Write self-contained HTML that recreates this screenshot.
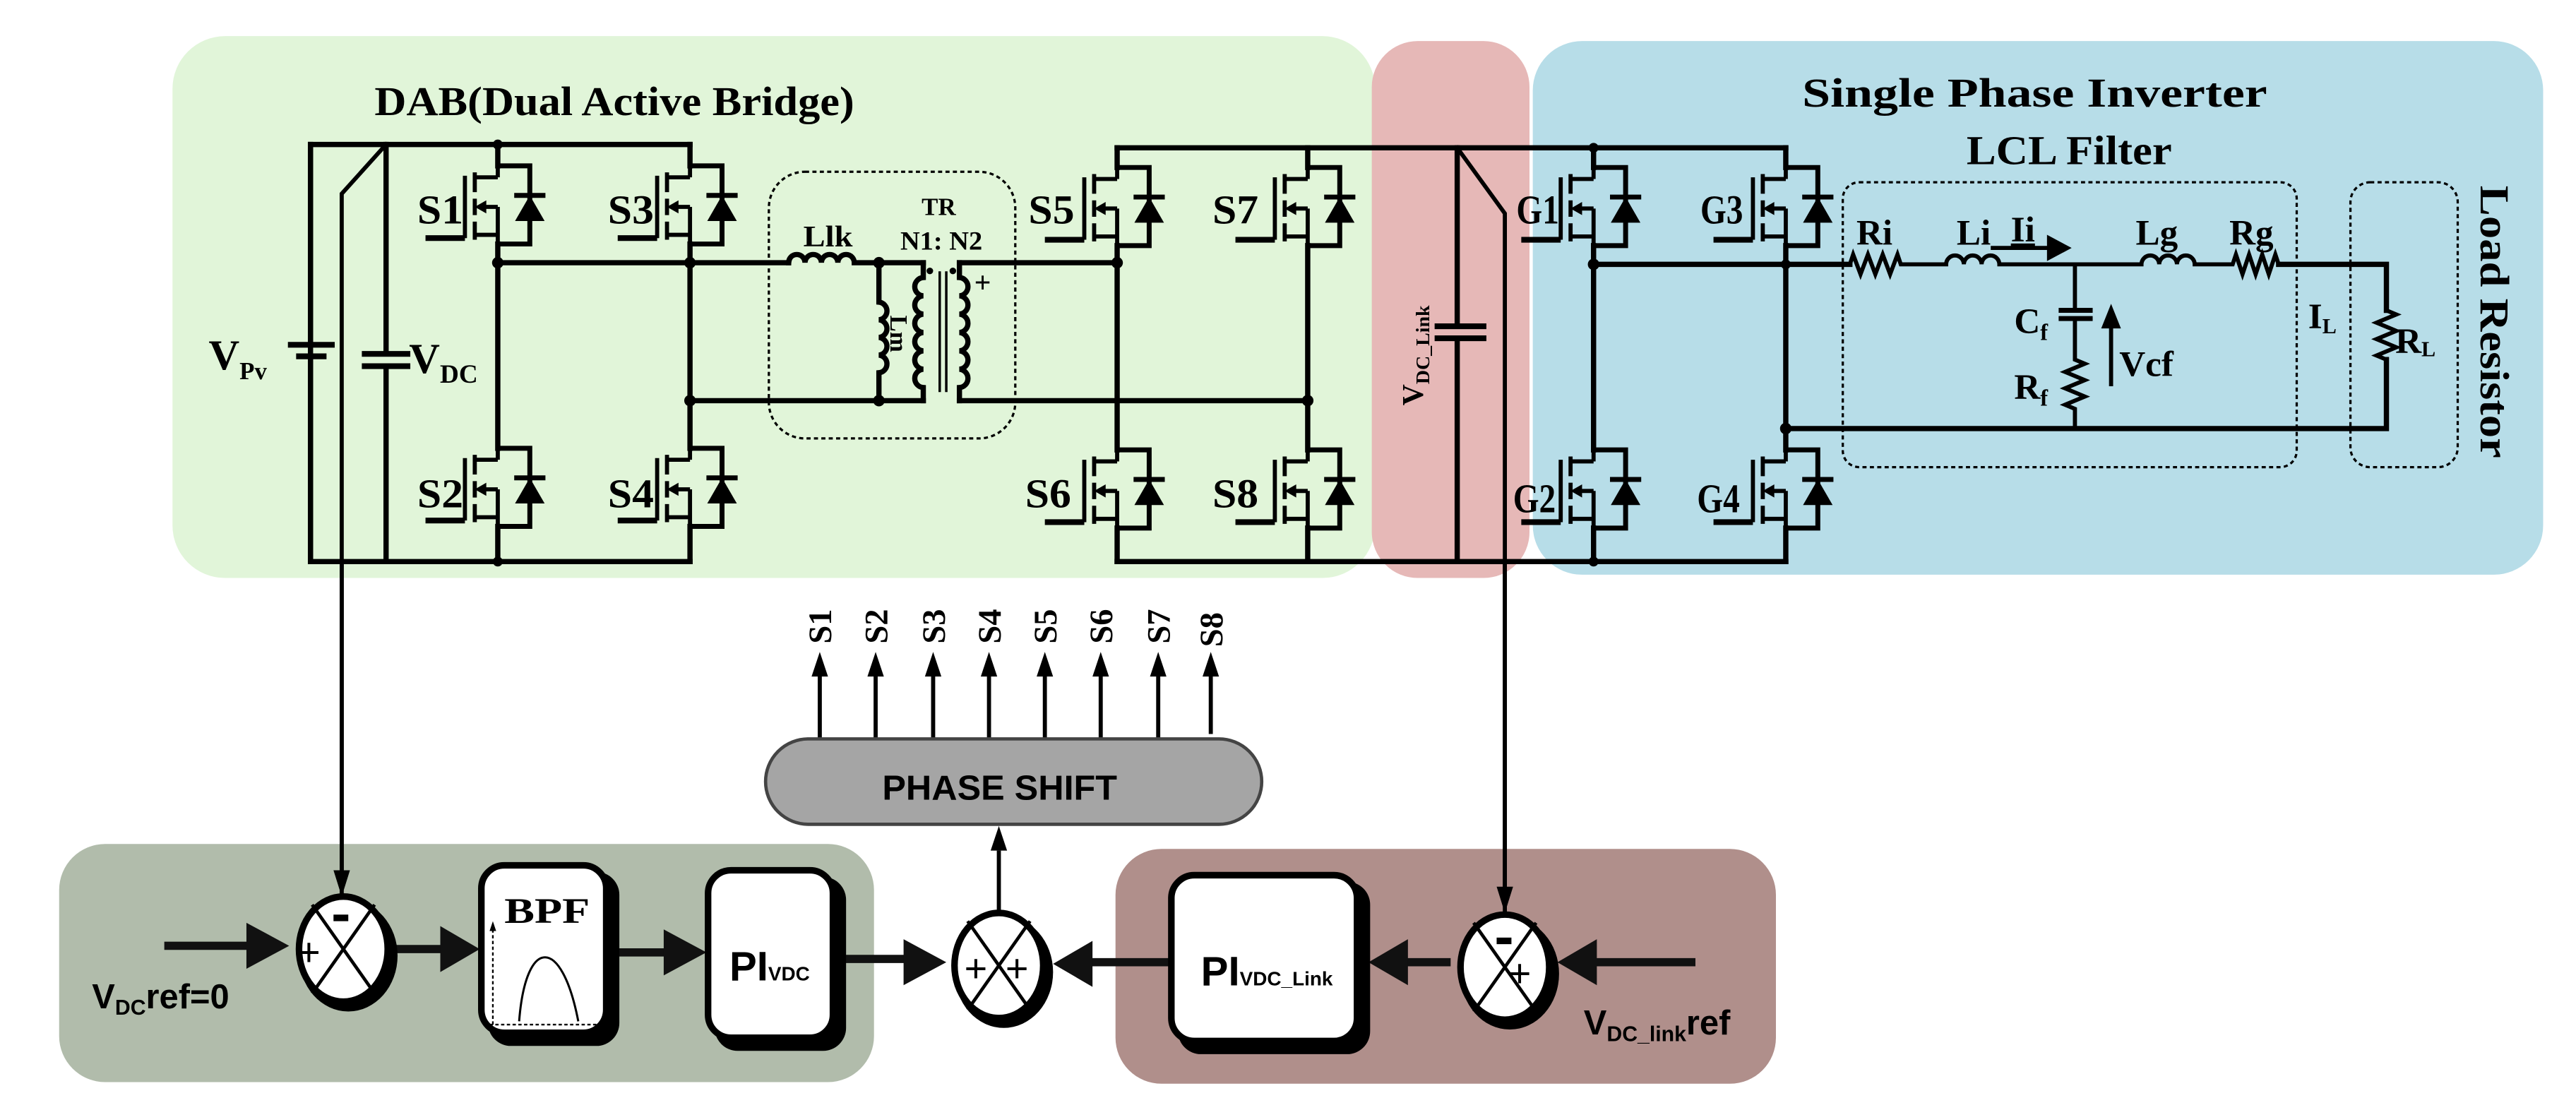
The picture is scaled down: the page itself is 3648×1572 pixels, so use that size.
<!DOCTYPE html>
<html><head><meta charset="utf-8"><style>
html,body{margin:0;padding:0;background:#fff;}
svg{display:block;}
.s{font-family:"Liberation Serif",serif;font-weight:bold;}
.a{font-family:"Liberation Sans",sans-serif;font-weight:bold;}
</style></head><body>
<svg width="3648" height="1572" viewBox="0 0 1568 676" preserveAspectRatio="none" xmlns="http://www.w3.org/2000/svg">
<defs>
<g id="m" fill="none" stroke="#000">
 <path d="M0,0 H19.5 V47.6 H0" stroke-width="3"/>
 <path d="M-14,4 V16 M-14,20 V30 M-14,34 V45" stroke-width="2.5"/>
 <path d="M-20,6 V44" stroke-width="2.5"/>
 <path d="M-44,44 H-20" stroke-width="3.5"/>
 <path d="M-14,7 H0 M-14,42 H0 M-10,25 H0 M0,0 V7 M0,25 V47.6" stroke-width="2.5"/>
 <polygon points="-14,25 -7,21 -7,29" fill="#000" stroke="none"/>
 <polygon points="19.5,18 10.5,33.6 28.5,33.6" fill="#000" stroke="none"/>
 <path d="M10,18 H29" stroke-width="3"/>
</g>
</defs>

<rect x="105" y="22" width="732" height="330" rx="32" fill="#e1f5d9"/>
<rect x="835" y="25" width="96" height="327" rx="28" fill="#e6b8b7"/>
<rect x="933" y="25" width="615" height="325" rx="30" fill="#b7dde8"/>
<rect x="36" y="514" width="496" height="145" rx="28" fill="#b1bcab"/>
<rect x="679" y="517" width="402" height="143" rx="28" fill="#b08f8b"/>

<text class="s" x="228" y="70" font-size="25" textLength="292" lengthAdjust="spacingAndGlyphs">DAB(Dual Active Bridge)</text>
<text class="s" x="1097" y="65" font-size="25" textLength="283" lengthAdjust="spacingAndGlyphs">Single Phase Inverter</text>
<text class="s" x="1197" y="100" font-size="25" textLength="125" lengthAdjust="spacingAndGlyphs">LCL Filter</text>
<text class="s" transform="translate(1510,113) rotate(90)" font-size="25" textLength="166" lengthAdjust="spacingAndGlyphs">Load Resistor</text>

<g fill="none" stroke="#000" stroke-width="3.2" stroke-linecap="square">
<path d="M189,88 H420 M189,342 H420 M189,88 V342"/>
<path d="M235,88 L208,118 V545" stroke-width="2.5"/>
<path d="M235,88 V215.5 M235,223 V342"/>
<path d="M189,88 V210 M189,217 V342"/>
<path d="M303,88 V101 M303,148.6 V273 M303,320.6 V342"/>
<path d="M420,88 V101 M420,148.6 V273 M420,320.6 V342"/>
<path d="M303,160 H480 M420,244 H562"/>
<path d="M480,160 a5,5 0 0 1 10,0 a5,5 0 0 1 10,0 a5,5 0 0 1 10,0 a5,5 0 0 1 10,0 H562"/>
<path d="M535,160 V184 a5.4,5.4 0 0 1 0,10.75 a5.4,5.4 0 0 1 0,10.75 a5.4,5.4 0 0 1 0,10.75 a5.4,5.4 0 0 1 0,10.75 V244"/>
<path d="M562,160 V169 a5.6,5.6 0 0 0 0,11.17 a5.6,5.6 0 0 0 0,11.17 a5.6,5.6 0 0 0 0,11.17 a5.6,5.6 0 0 0 0,11.17 a5.6,5.6 0 0 0 0,11.17 a5.6,5.6 0 0 0 0,11.17 V244"/>
<path d="M584,160 V169 a5.6,5.6 0 0 1 0,11.17 a5.6,5.6 0 0 1 0,11.17 a5.6,5.6 0 0 1 0,11.17 a5.6,5.6 0 0 1 0,11.17 a5.6,5.6 0 0 1 0,11.17 a5.6,5.6 0 0 1 0,11.17 V244"/>
<path d="M572,166 V238 M576,166 V238" stroke-width="1.5"/>
<path d="M584,160 H680 M584,244 H796"/>
<path d="M680,90 H1087 M680,342 H1087"/>
<path d="M680,90 V102 M680,149.6 V274 M680,321.6 V342"/>
<path d="M796,90 V102 M796,149.6 V274 M796,321.6 V342"/>
<path d="M887,90 V198.7 M887,206 V342"/>
<path d="M887,90 L916,130 V555" stroke-width="2.5"/>
<path d="M970,90 V102 M970,149.6 V274 M970,321.6 V342"/>
<path d="M1087,90 V102 M1087,149.6 V274 M1087,321.6 V342"/>
<path d="M970,161 H1126 M1087,261 H1452.6 V219 M1452.6,189 V161 H1387"/>
<path d="M1126,161 l2,-6 l4.5,12 l4.5,-12 l4.5,12 l4.5,-12 l4.5,12 l4.5,-12 l2,6 H1184.6 a5.4,5.4 0 0 1 10.8,0 a5.4,5.4 0 0 1 10.8,0 a5.4,5.4 0 0 1 10.8,0 H1303.5 a5.4,5.4 0 0 1 10.8,0 a5.4,5.4 0 0 1 10.8,0 a5.4,5.4 0 0 1 10.8,0 H1359 l2,-6 l4,12 l4,-12 l4,12 l4,-12 l4,12 l4,-12 l2,6" stroke-width="2.5"/>
<path d="M1452.6,189 l6,2.5 l-12,5 l12,5 l-12,5 l12,5 l-12,5 l6,2.5" stroke-width="2.5"/>
<path d="M1263,161 V189 M1263,194 V219 l6,2.5 l-12,5 l12,5 l-12,5 l12,5 l-12,5 l6,2.5 V261" stroke-width="2.5"/>
<path d="M1254.6,189 H1272.3 M1254.6,194 H1272.3" stroke-width="3"/>
<path d="M1213,151 H1248" stroke-width="2.5"/>
<path d="M1285,234 V198" stroke-width="2.5"/>
<path d="M177,210 H202 M182,217 H197" stroke-width="3.5"/>
<path d="M222,215.5 H248 M222,223 H248" stroke-width="3.5"/>
<path d="M875,198.7 H903 M875,206 H903" stroke-width="3.5"/>
</g>
<polygon points="1261,151 1246,143 1246,159" fill="#000"/>
<polygon points="1285,185 1279,200 1291,200" fill="#000"/>
<text class="s" x="593" y="178" font-size="18">+</text>

<g fill="#000">
<circle cx="303" cy="88" r="3"/><circle cx="303" cy="160" r="3.5"/><circle cx="420" cy="160" r="3.5"/><circle cx="420" cy="244" r="3.5"/>
<circle cx="303" cy="342" r="3"/><circle cx="535" cy="160" r="3.5"/><circle cx="535" cy="244" r="3.5"/>
<circle cx="680" cy="160" r="3.5"/><circle cx="796" cy="244" r="3.5"/>
<circle cx="970" cy="90" r="3"/><circle cx="970" cy="161" r="3.5"/><circle cx="1087" cy="261" r="3.5"/><circle cx="1087" cy="161" r="3"/><circle cx="970" cy="342" r="3"/>
<circle cx="566" cy="165" r="2"/><circle cx="580" cy="165" r="2"/>
</g>

<use href="#m" x="303" y="101"/><use href="#m" x="420" y="101"/>
<use href="#m" x="303" y="273"/><use href="#m" x="420" y="273"/>
<use href="#m" x="680" y="102"/><use href="#m" x="796" y="102"/>
<use href="#m" x="680" y="274"/><use href="#m" x="796" y="274"/>
<use href="#m" x="970" y="102"/><use href="#m" x="1087" y="102"/>
<use href="#m" x="970" y="274"/><use href="#m" x="1087" y="274"/>

<g fill="none" stroke="#000" stroke-width="1.4" stroke-dasharray="2.5,2">
<rect x="468" y="104.6" width="150" height="162.4" rx="22"/>
<rect x="1121.7" y="111" width="276.3" height="173.5" rx="10"/>
<rect x="1430.7" y="111" width="65.3" height="173.5" rx="12"/>
</g>

<g class="s" font-size="25">
<text x="254" y="136" textLength="28" lengthAdjust="spacingAndGlyphs">S1</text>
<text x="370" y="136" textLength="28" lengthAdjust="spacingAndGlyphs">S3</text>
<text x="254" y="309" textLength="28" lengthAdjust="spacingAndGlyphs">S2</text>
<text x="370" y="309" textLength="28" lengthAdjust="spacingAndGlyphs">S4</text>
<text x="626" y="136" textLength="28" lengthAdjust="spacingAndGlyphs">S5</text>
<text x="738" y="136" textLength="28" lengthAdjust="spacingAndGlyphs">S7</text>
<text x="624" y="309" textLength="28" lengthAdjust="spacingAndGlyphs">S6</text>
<text x="738" y="309" textLength="28" lengthAdjust="spacingAndGlyphs">S8</text>
<text x="923" y="136" textLength="26" lengthAdjust="spacingAndGlyphs">G1</text>
<text x="1035" y="136" textLength="26" lengthAdjust="spacingAndGlyphs">G3</text>
<text x="921" y="312" textLength="26" lengthAdjust="spacingAndGlyphs">G2</text>
<text x="1033" y="312" textLength="26" lengthAdjust="spacingAndGlyphs">G4</text>
</g>
<g class="s">
<text x="127" y="225" font-size="26">V<tspan font-size="15" dy="6">Pv</tspan></text>
<text x="249" y="227" font-size="26">V<tspan font-size="16" dy="6">DC</tspan></text>
<text x="489" y="150" font-size="18" textLength="30" lengthAdjust="spacingAndGlyphs">Llk</text>
<text x="561" y="131" font-size="15">TR</text>
<text x="548" y="152" font-size="16" textLength="50" lengthAdjust="spacingAndGlyphs">N1: N2</text>
<text transform="translate(542,192) rotate(90)" font-size="15">Lm</text>
<text transform="translate(866,247) rotate(-90)" font-size="18">V<tspan font-size="12" dy="4">DC_Link</tspan></text>
<text x="1130" y="149" font-size="22">Ri</text>
<text x="1191" y="149" font-size="22">Li</text>
<text x="1224" y="147" font-size="22" text-decoration="underline">Ii</text>
<text x="1300" y="149" font-size="22">Lg</text>
<text x="1357" y="149" font-size="22">Rg</text>
<text x="1226" y="203" font-size="22">C<tspan font-size="14" dy="4">f</tspan></text>
<text x="1226" y="243" font-size="22">R<tspan font-size="14" dy="4">f</tspan></text>
<text x="1290" y="229" font-size="22">Vcf</text>
<text x="1405" y="200" font-size="22">I<tspan font-size="13" dy="3">L</tspan></text>
<text x="1458" y="215" font-size="22">R<tspan font-size="13" dy="2">L</tspan></text>
</g>

<g stroke="#000" fill="none" stroke-width="2.5">
<path d="M208,342 V532"/>
<path d="M916,342 V540"/>
<path d="M499,450 V410 M533,450 V410 M568,450 V410 M602,450 V410 M636,450 V410 M670,450 V410 M705,450 V410 M737,447 V410"/>
<path d="M608,556 V518"/>
</g>
<g fill="#000">
<polygon points="208,546 203,530 213,530"/>
<polygon points="916,556 911,540 921,540"/>
<polygon points="608,503 603,518 613,518"/>
<polygon points="499,397 494,412 504,412"/><polygon points="533,397 528,412 538,412"/>
<polygon points="568,397 563,412 573,412"/><polygon points="602,397 597,412 607,412"/>
<polygon points="636,397 631,412 641,412"/><polygon points="670,397 665,412 675,412"/>
<polygon points="705,397 700,412 710,412"/><polygon points="737,397 732,412 742,412"/>
</g>
<g class="s" font-size="20">
<text transform="translate(506,392) rotate(-90)">S1</text>
<text transform="translate(540,392) rotate(-90)">S2</text>
<text transform="translate(575,392) rotate(-90)">S3</text>
<text transform="translate(609,392) rotate(-90)">S4</text>
<text transform="translate(643,392) rotate(-90)">S5</text>
<text transform="translate(677,392) rotate(-90)">S6</text>
<text transform="translate(712,392) rotate(-90)">S7</text>
<text transform="translate(744,394) rotate(-90)">S8</text>
</g>
<rect x="466" y="450" width="302" height="52" rx="26" fill="#a5a5a5" stroke="#444" stroke-width="2"/>
<text class="a" x="537" y="487" font-size="21" textLength="143" lengthAdjust="spacingAndGlyphs">PHASE SHIFT</text>

<g stroke="#111" stroke-width="5" fill="none">
<path d="M100,576 H160"/><path d="M240,578 H282"/><path d="M371,580 H418"/>
<path d="M510,584 H560"/><path d="M712,586 H660"/><path d="M883,586 H845"/>
<path d="M1032,586 H962"/>
</g>
<g fill="#111">
<polygon points="176,576 150,562 150,590"/>
<polygon points="292,578 268,564 268,592"/>
<polygon points="430,580 404,566 404,594"/>
<polygon points="576,586 550,572 550,600"/>
<polygon points="641,587 665,573 665,601"/>
<polygon points="833,586 857,572 857,600"/>
<polygon points="948,586 972,572 972,600"/>
</g>

<g stroke="#000">
<ellipse cx="212" cy="582" rx="30" ry="34" fill="#000" stroke="none"/>
<ellipse cx="209" cy="578" rx="27" ry="32" fill="#fff" stroke-width="4"/>
<path d="M190,551 L228,605 M228,551 L190,605" stroke-width="2"/>
<ellipse cx="611" cy="592" rx="30" ry="34" fill="#000" stroke="none"/>
<ellipse cx="608" cy="588" rx="27" ry="32" fill="#fff" stroke-width="4"/>
<path d="M589,561 L627,615 M627,561 L589,615" stroke-width="2"/>
<ellipse cx="919" cy="593" rx="30" ry="34" fill="#000" stroke="none"/>
<ellipse cx="916" cy="589" rx="27" ry="32" fill="#fff" stroke-width="4"/>
<path d="M897,562 L935,616 M935,562 L897,616" stroke-width="2"/>
</g>
<g fill="#000">
<rect x="203" y="557" width="9" height="4"/>
<rect x="911" y="571" width="9" height="4"/>
</g>
<g font-family="Liberation Sans,sans-serif" font-size="24">
<text x="181" y="588">+</text>
<text x="587" y="598">+</text><text x="612" y="598">+</text>
<text x="918" y="601">+</text>
</g>

<rect x="297" y="531" width="80" height="106" rx="14" fill="#000"/>
<rect x="293" y="527" width="76" height="102" rx="14" fill="#fff" stroke="#000" stroke-width="4"/>
<text class="s" x="307" y="562" font-size="22" textLength="52" lengthAdjust="spacingAndGlyphs">BPF</text>
<path d="M316,622 C320,570 342,570 352,622" fill="none" stroke="#000" stroke-width="1.3"/>
<path d="M300,624 V566 M298,624 H366" fill="none" stroke="#000" stroke-width="1" stroke-dasharray="2,1.5"/>
<polygon points="300,561 298,567 302,567" fill="#000"/>

<rect x="435" y="534" width="80" height="106" rx="14" fill="#000"/>
<rect x="431" y="530" width="76" height="102" rx="14" fill="#fff" stroke="#000" stroke-width="4"/>
<text class="a" x="444" y="597" font-size="25">PI<tspan font-size="12">VDC</tspan></text>

<rect x="717" y="537" width="117" height="105" rx="14" fill="#000"/>
<rect x="713" y="533" width="113" height="101" rx="14" fill="#fff" stroke="#000" stroke-width="4"/>
<text class="a" x="731" y="600" font-size="25">PI<tspan font-size="12">VDC_Link</tspan></text>

<text class="a" x="56" y="614" font-size="21">V<tspan font-size="13" dy="4">DC</tspan><tspan dy="-4">ref=0</tspan></text>
<text class="a" x="964" y="630" font-size="21">V<tspan font-size="13" dy="4">DC_link</tspan><tspan dy="-4">ref</tspan></text>
</svg>
</body></html>
